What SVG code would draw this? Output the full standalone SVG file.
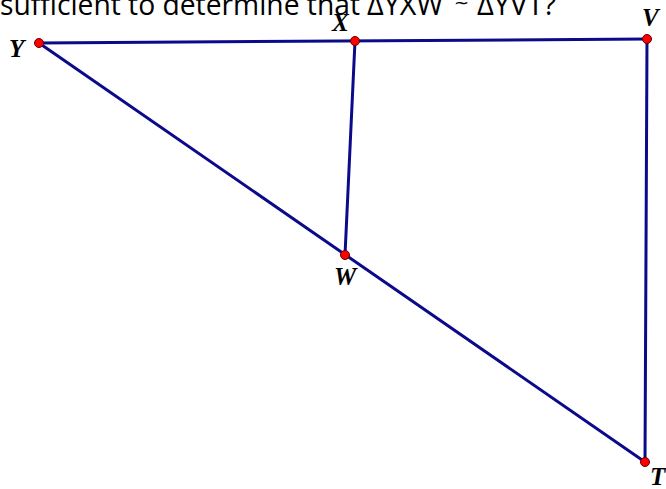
<svg xmlns="http://www.w3.org/2000/svg" width="666" height="489" viewBox="0 0 666 489">
<style>
.edge{stroke:#0a0a8a;stroke-width:3;fill:none;stroke-linecap:round}
.pt{fill:#ff0000;stroke:#600000;stroke-width:1}
.lbl{font-family:"Liberation Serif",serif;font-style:italic;font-weight:bold;font-size:25px;fill:#000}
.q{font-family:"Open Sans","Noto Sans",sans-serif;font-size:30px;fill:#000}
.t{font-family:"DejaVu Sans",sans-serif;font-size:18px;fill:#000}
</style>
<rect width="666" height="489" fill="#fff"/>
<text class="q" x="0" y="15" textLength="360" lengthAdjust="spacingAndGlyphs">sufficient to determine that</text>
<text class="q" x="367" y="15" textLength="76" lengthAdjust="spacingAndGlyphs">ΔYXW</text>
<text class="t" x="454" y="9">~</text>
<text class="q" x="477" y="15" textLength="79" lengthAdjust="spacingAndGlyphs">ΔYVT?</text>
<g id="connectors">
<line class="edge" x1="39" y1="43" x2="647" y2="39"/>
<line class="edge" x1="355" y1="41" x2="345" y2="255"/>
<line class="edge" x1="39" y1="43" x2="645" y2="462"/>
<line class="edge" x1="647" y1="39" x2="645" y2="462"/>
</g>
<g id="Y"><circle class="pt" cx="39" cy="43" r="4.5"/><text class="lbl" x="9" y="57">Y</text></g>
<g id="X"><circle class="pt" cx="355" cy="41" r="4.5"/><text class="lbl" x="332" y="31">X</text></g>
<g id="V"><circle class="pt" cx="647" cy="39" r="4.5"/><text class="lbl" x="642" y="26">V</text></g>
<g id="W"><circle class="pt" cx="345" cy="255" r="4.5"/><text class="lbl" x="334" y="285">W</text></g>
<g id="T"><circle class="pt" cx="645" cy="462" r="4.5"/><text class="lbl" x="650" y="485">T</text></g>
</svg>
